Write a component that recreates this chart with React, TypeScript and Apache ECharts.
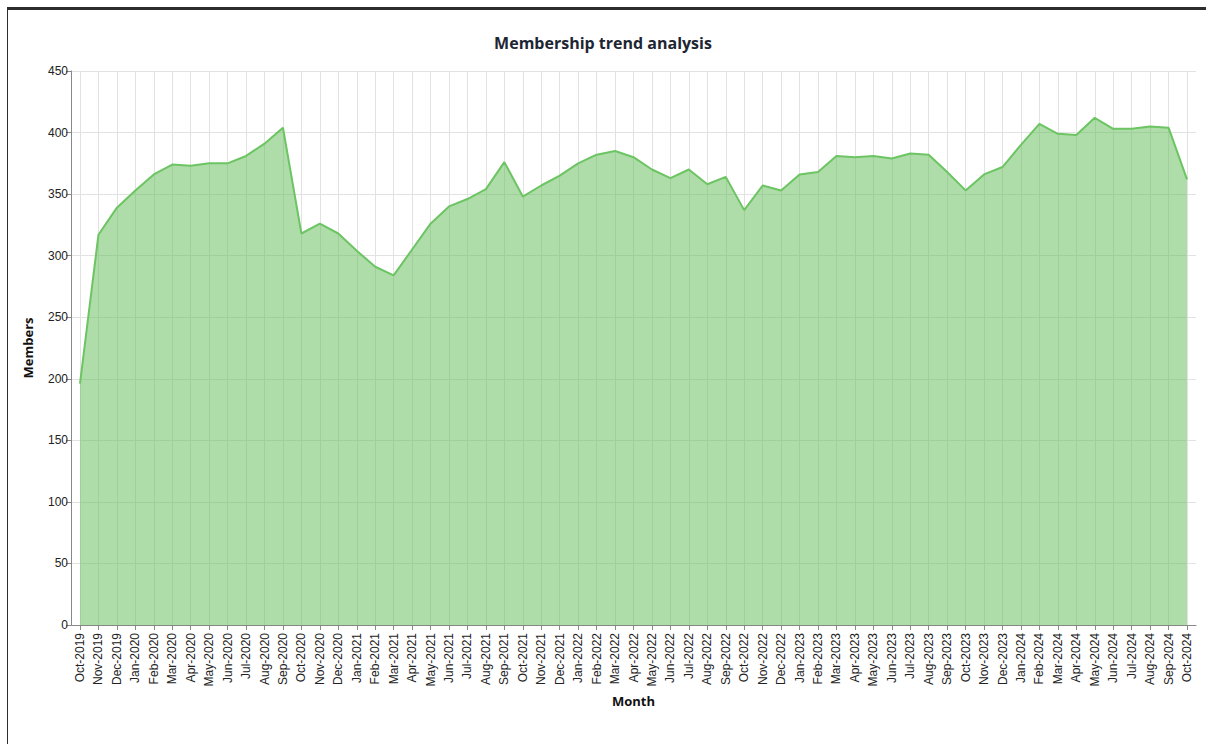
import React, { useEffect, useRef } from "react";
import * as echarts from "echarts";

const months = [
  "Oct-2019", "Nov-2019", "Dec-2019",
  "Jan-2020", "Feb-2020", "Mar-2020", "Apr-2020", "May-2020", "Jun-2020", "Jul-2020", "Aug-2020", "Sep-2020", "Oct-2020", "Nov-2020", "Dec-2020",
  "Jan-2021", "Feb-2021", "Mar-2021", "Apr-2021", "May-2021", "Jun-2021", "Jul-2021", "Aug-2021", "Sep-2021", "Oct-2021", "Nov-2021", "Dec-2021",
  "Jan-2022", "Feb-2022", "Mar-2022", "Apr-2022", "May-2022", "Jun-2022", "Jul-2022", "Aug-2022", "Sep-2022", "Oct-2022", "Nov-2022", "Dec-2022",
  "Jan-2023", "Feb-2023", "Mar-2023", "Apr-2023", "May-2023", "Jun-2023", "Jul-2023", "Aug-2023", "Sep-2023", "Oct-2023", "Nov-2023", "Dec-2023",
  "Jan-2024", "Feb-2024", "Mar-2024", "Apr-2024", "May-2024", "Jun-2024", "Jul-2024", "Aug-2024", "Sep-2024", "Oct-2024",
];

const members = [
  196, 317, 339, 353, 366, 374, 373, 375, 375, 381, 391, 404,
  318, 326, 318, 304, 291, 284, 305, 326, 340, 346, 354, 376,
  348, 357, 365, 375, 382, 385, 380, 370, 363, 370, 358, 364,
  337, 357, 353, 366, 368, 381, 380, 381, 379, 383, 382, 368,
  353, 366, 372, 390, 407, 399, 398, 412, 403, 403, 405, 404, 362,
];

const yTicks = { min: 0, max: 450, interval: 50 };

export default function App() {
  const ref = useRef<HTMLDivElement>(null);
  useEffect(() => {
    if (!ref.current) return;
    const chart = echarts.init(ref.current, undefined, { renderer: "svg" });
    const axisGrey = "#888888";
    const gridGrey = "#e2e2e2";
    const labelFont = "'Liberation Sans', Arial, sans-serif";
    chart.setOption({
      animation: false,
      title: {
        text: "Membership trend analysis",
        left: "center",
        top: 30,
        textStyle: { fontFamily: "'Open Sans'", fontWeight: "bold", fontSize: 16, color: "#1d2633" },
      },
      grid: [
        { left: 80, top: 71, width: 1107, height: 554, containLabel: false },
        { left: 71, top: 71, width: 1125, height: 554, containLabel: false },
      ],
      xAxis: [
        {
          type: "category",
          gridIndex: 0,
          data: months,
          boundaryGap: false,
          axisLine: { show: false },
          axisTick: { show: true, length: 5, lineStyle: { color: axisGrey } },
          axisLabel: {
            rotate: 90,
            interval: 0,
            margin: 8,
            fontSize: 12,
            color: "#222",
            fontFamily: labelFont,
          },
          splitLine: { show: true, lineStyle: { color: gridGrey, width: 1 } },
          name: "Month",
          nameLocation: "middle",
          nameGap: 65,
          nameTextStyle: { fontFamily: "'Open Sans'", fontWeight: "bold", fontSize: 13, color: "#111" },
        },
        {
          type: "value",
          gridIndex: 1,
          min: 0,
          max: 1,
          axisLine: { show: true, onZero: false, lineStyle: { color: axisGrey } },
          axisTick: { show: false },
          axisLabel: { show: false },
          splitLine: { show: false },
        },
      ],
      yAxis: [
        {
          type: "value",
          gridIndex: 0,
          min: yTicks.min,
          max: yTicks.max,
          interval: yTicks.interval,
          axisLine: { show: false },
          axisTick: { show: false },
          axisLabel: { show: false },
          splitLine: { show: false },
        },
        {
          type: "value",
          gridIndex: 1,
          min: yTicks.min,
          max: yTicks.max,
          interval: yTicks.interval,
          axisLine: { show: true, lineStyle: { color: axisGrey } },
          axisTick: { show: true, length: 5, lineStyle: { color: axisGrey } },
          axisLabel: {
            margin: 3,
            fontSize: 12,
            color: "#222",
            fontFamily: labelFont,
          },
          splitLine: { show: true, lineStyle: { color: gridGrey, width: 1 } },
          name: "Members",
          nameLocation: "middle",
          nameRotate: 90,
          nameGap: 37,
          nameTextStyle: { fontFamily: "'Open Sans'", fontWeight: "bold", fontSize: 13, color: "#111" },
        },
      ],
      series: [
        {
          type: "line",
          xAxisIndex: 0,
          yAxisIndex: 0,
          data: members,
          symbol: "none",
          z: 3,
          lineStyle: { color: "#6cc463", width: 2 },
          areaStyle: { color: "#66bd5a", opacity: 0.52 },
        },
      ],
    });
    return () => chart.dispose();
  }, []);

  return (
    <div style={{ position: "absolute", left: 0, top: 0, width: 1206, height: 744, overflow: "hidden", background: "#fff" }}>
      <div
        style={{
          position: "absolute",
          left: 7,
          top: 7,
          right: -2,
          bottom: -2,
          borderTop: "3px solid #2d2d2d",
          borderLeft: "1px solid #2d2d2d",
        }}
      />
      <div ref={ref} style={{ position: "absolute", left: 0, top: 0, width: 1206, height: 744 }} />
    </div>
  );
}
